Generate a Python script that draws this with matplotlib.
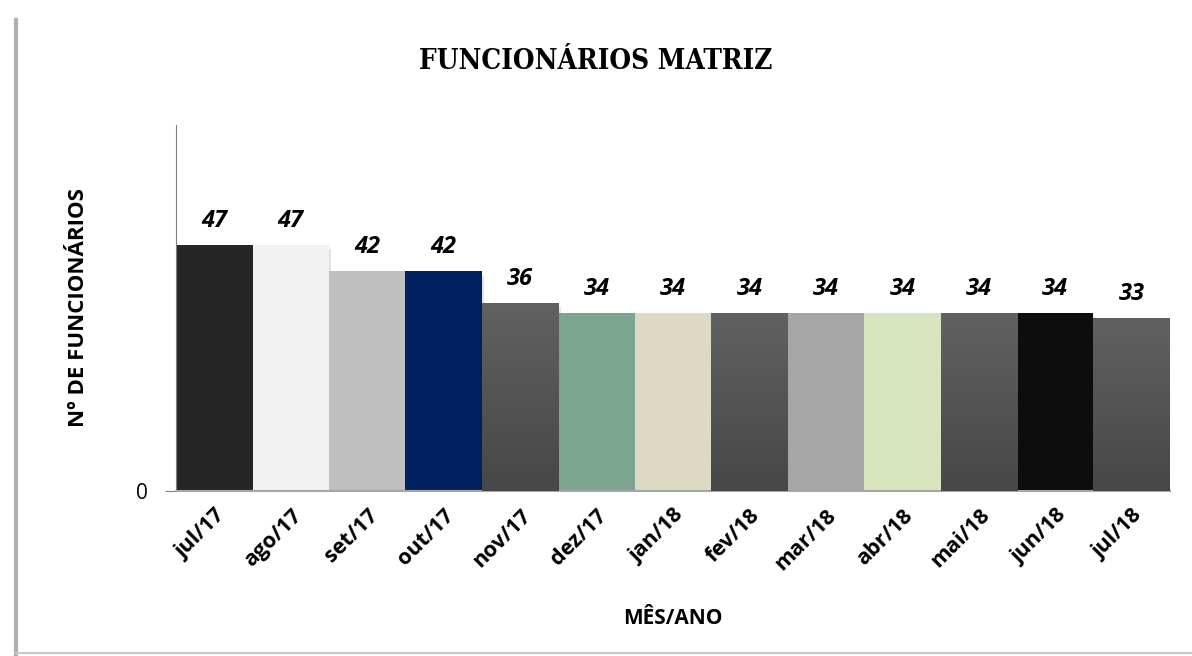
import numpy as np
import matplotlib.pyplot as plt
from matplotlib.lines import Line2D

meses = ["jul/17", "ago/17", "set/17", "out/17", "nov/17", "dez/17", "jan/18",
         "fev/18", "mar/18", "abr/18", "mai/18", "jun/18", "jul/18"]
funcionarios = [47, 47, 42, 42, 36, 34, 34, 34, 34, 34, 34, 34, 33]
cores = ["#262626", "#f2f2f2", "#bfbfbf", "#002060", "grad", "#7ba491", "#ddd9c3",
         "grad", "#a6a6a6", "#d7e4bd", "grad", "#0d0d0d", "grad"]

fig = plt.figure(figsize=(11.92, 6.56), dpi=100)
ax = fig.add_axes([0.1477, 0.2515, 0.8338, 0.558])

x = np.arange(len(meses))
# light drop shadow under the bars
ax.bar(x + 0.03, funcionarios, width=1.0, bottom=-0.8, color="#e3e3e3", zorder=1)
bars = ax.bar(x, funcionarios, width=1.0, color=[c if c != "grad" else "#555555" for c in cores],
              zorder=2)

grad = np.linspace(0, 1, 256).reshape(-1, 1)
cmap = plt.matplotlib.colors.LinearSegmentedColormap.from_list("g", ["#474747", "#616161"])
for b, c in zip(bars, cores):
    if c == "grad":
        x0, w, h = b.get_x(), b.get_width(), b.get_height()
        im = ax.imshow(grad, extent=[x0, x0 + w, 0, h], aspect="auto", origin="lower",
                       cmap=cmap, zorder=3)
        im.set_clip_path(b)

for xi, v in zip(x, funcionarios):
    ax.text(xi, v + 2.3, str(v), ha="center", va="bottom", fontsize=17,
            fontweight="bold", fontstyle="italic", family="Open Sans", zorder=4)

ax.set_xlim(-0.5, len(meses) - 0.5)
ax.set_ylim(0, 70)
ax.set_yticks([0])
ax.set_yticklabels(["0"], fontsize=15, family="Open Sans")
ax.set_xticks(x)
ax.set_xticklabels(meses, rotation=45, ha="right", rotation_mode="anchor",
                   fontsize=15.5, fontweight="bold", family="Open Sans")
ax.tick_params(axis="x", length=0, pad=10)
ax.tick_params(axis="y", length=8, color="#808080", pad=12)

for s in ["top", "right"]:
    ax.spines[s].set_visible(False)
ax.spines["left"].set_color("#808080")
ax.spines["bottom"].set_color("#a6a6a6")
ax.spines["bottom"].set_linewidth(1.5)

ax.set_xlabel("MÊS/ANO", fontsize=15, fontweight="bold", family="Open Sans", labelpad=24)
ax.set_ylabel("Nº DE FUNCIONÁRIOS", fontsize=16, fontweight="bold", family="Open Sans")
ax.yaxis.set_label_coords(-0.088, 0.5)

fig.text(0.5, 0.907, "FUNCIONÁRIOS MATRIZ", ha="center", va="center", fontsize=20,
         fontweight="bold", family="DejaVu Serif", stretch="condensed")

# chart area border (left and bottom edges visible)
fig.add_artist(Line2D([0.0134, 0.0134], [0.003, 0.97], transform=fig.transFigure,
                      color="#b0b0b0", lw=3))
fig.add_artist(Line2D([0.0134, 1.0], [0.004, 0.004], transform=fig.transFigure,
                      color="#c8c8c8", lw=1.5))

fig.savefig("out.png", dpi=100)
